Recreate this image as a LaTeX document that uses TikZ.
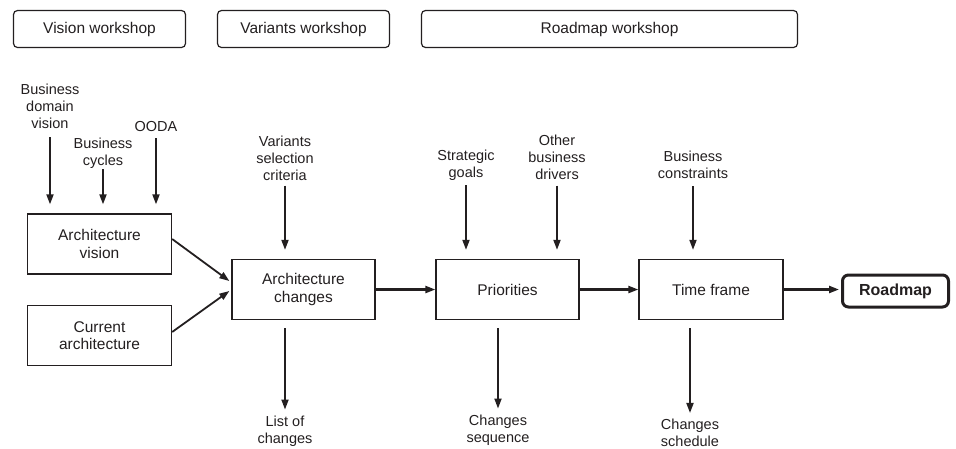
\documentclass[tikz,border=0pt]{standalone}
\usepackage{fontspec}
\setmainfont{Liberation Sans}
\usetikzlibrary{arrows.meta,calc}
\definecolor{ink}{HTML}{231F20}
\begin{document}
\begin{tikzpicture}[x=1pt,y=-1pt,
  every node/.style={text=ink, align=center, inner sep=0pt},
  boxtxt/.style={font=\fontsize{15.5}{17.5}\selectfont},
  lbl/.style={font=\fontsize{14.5}{17}\selectfont},
  phase/.style={draw=ink, line width=1.2pt, rounded corners=4pt,
    minimum width=172pt, minimum height=37pt, boxtxt},
  stage/.style={draw=ink, line width=1.3pt, minimum width=144pt,
    minimum height=60pt, boxtxt},
  result/.style={draw=ink, line width=3pt, rounded corners=6pt,
    minimum width=106pt, minimum height=32pt,
    font=\fontsize{16}{18}\selectfont\bfseries},
  flow/.style={draw=ink, line width=1.8pt,
    -{Triangle[length=10pt,width=7pt]}},
  mainflow/.style={flow, line width=2.2pt},
]
\useasboundingbox (0,0) rectangle (956,448);

% workshops
\node[phase] (vw)  at (99.5,29) {Vision workshop};
\node[phase] (varw) at (303.5,29) {Variants workshop};
\node[phase, minimum width=376pt] (rmw) at (609.5,29) {Roadmap workshop};

% stages
\node[stage] (avis) at (99.5,244) {Architecture\\vision};
\node[stage] (cur)  at (99.5,335.5) {Current\\architecture};
\node[stage, minimum width=143pt] (ach) at (303.5,289.5) {Architecture\\changes};
\node[stage, minimum width=143pt] (pri) at (507.5,289.5) {Priorities};
\node[stage] (tf)  at (711,289.5) {Time frame};
\node[result] (rm) at (895.5,291) {Roadmap};

% inputs
\node[lbl] (bdv)  at (50,106.5) {Business\\domain\\vision};
\node[lbl] (cyc)  at (103,153) {Business\\cycles};
\node[lbl] (ooda) at (156,127) {OODA};
\node[lbl] (vsc)  at (285,158) {Variants\\selection\\criteria};
\node[lbl] (sg)   at (466,165) {Strategic\\goals};
\node[lbl] (obd)  at (557,157) {Other\\business\\drivers};
\node[lbl] (bc)   at (693,165) {Business\\constraints};

% outputs
\node[lbl] (loc)  at (285,431) {List of\\changes};
\node[lbl] (cseq) at (498,430) {Changes\\sequence};
\node[lbl] (csch) at (690,433) {Changes\\schedule};

% input arrows
\draw[flow, shorten <=8pt, shorten >=9pt] (bdv.south) -- (bdv.south |- avis.north);
\draw[flow, shorten <=1pt, shorten >=9pt] (cyc.south) -- (cyc.south |- avis.north);
\draw[flow, shorten <=6pt, shorten >=9pt] (ooda.south) -- (ooda.south |- avis.north);
\draw[flow, shorten <=5pt, shorten >=9pt] (vsc.south) -- (vsc.south |- ach.north);
\draw[flow, shorten <=5pt, shorten >=9pt] (sg.south) -- (sg.south |- pri.north);
\draw[flow, shorten <=6pt, shorten >=9pt] (obd.south) -- (obd.south |- pri.north);
\draw[flow, shorten <=7pt, shorten >=9pt] (bc.south) -- (bc.south |- tf.north);

% merging into the changes
\draw[flow] ($(avis.east)+(0,-5)$) -- ($(ach.west)+(-2,-8.5)$);
\draw[flow] ($(cur.east)+(0,-3.5)$) -- ($(ach.west)+(-2,1.5)$);

% main chain
\draw[mainflow] (ach.east) -- (pri.west);
\draw[mainflow] (pri.east) -- (tf.west);
\draw[mainflow, shorten >=2pt] (tf.east) -- (tf.east -| rm.west);

% output arrows
\draw[flow, shorten <=8pt, shorten >=6pt] (loc.north |- ach.south) -- (loc.north);
\draw[flow, shorten <=8pt, shorten >=6pt] (cseq.north |- pri.south) -- (cseq.north);
\draw[flow, shorten <=8pt, shorten >=6pt] (csch.north |- tf.south) -- (csch.north);
\end{tikzpicture}
\end{document}
